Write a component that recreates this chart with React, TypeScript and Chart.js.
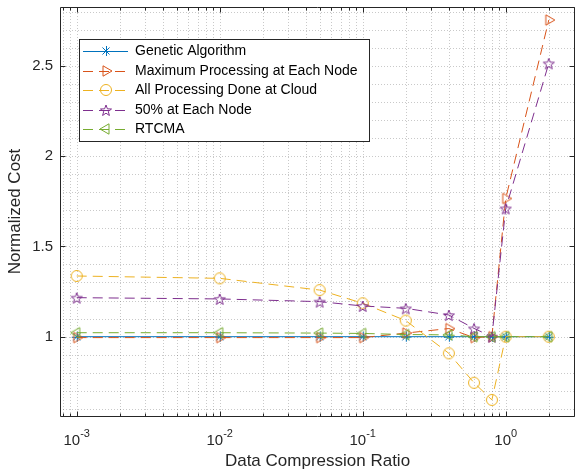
import React, { useEffect, useRef } from 'react';
import { Chart, registerables } from 'chart.js';

Chart.register(...registerables);

// ---- Data ----
const compressionRatios = [0.001, 0.01, 0.05, 0.1, 0.2, 0.4, 0.6, 0.8, 1, 2];
const seriesLabels = [
  'Genetic Algorithm',
  'Maximum Processing at Each Node',
  'All Processing Done at Cloud',
  '50% at Each Node',
  'RTCMA',
];
const geneticAlgorithm = [1, 1, 1, 1, 1, 1, 1, 1, 1, 1];
const maxProcessingEachNode = [0.995, 0.995, 0.995, 0.995, 1.02, 1.045, 0.995, 1.0, 1.765, 2.753];
const allProcessingCloud = [1.336, 1.323, 1.258, 1.185, 1.089, 0.908, 0.745, 0.65, 1.0, 1.0];
const fiftyPercentEachNode = [1.216, 1.209, 1.194, 1.17, 1.157, 1.12, 1.046, 1.0, 1.71, 2.513];
const rtcma = [1.022, 1.022, 1.02, 1.018, 1.012, 1.01, 1.0, 1.0, 1.0, 1.0];

const xMajorTicks = [0.001, 0.01, 0.1, 1];
const xTickExponents = ['-3', '-2', '-1', '0'];
const yMajorTicks = [1, 1.5, 2, 2.5];
const yTickLabels = ['1', '1.5', '2', '2.5'];

const FONT = "'Liberation Sans', Arial, Helvetica, sans-serif";
const AXIS_COLOR = '#262626';

const seriesValues = [geneticAlgorithm, maxProcessingEachNode, allProcessingCloud, fiftyPercentEachNode, rtcma];
const seriesColors = ['#0072BD', '#D95319', '#EDB120', '#7E2F8E', '#77AC30'];
const seriesMarkers = ['asterisk', 'triRight', 'circle', 'pentagram', 'triLeft'];
const seriesDash: number[][] = [[], [10, 6], [10, 6], [10, 6], [10, 6]];

function makeMarker(kind: string, color: string): HTMLCanvasElement {
  const s = 16;
  const c = document.createElement('canvas');
  c.width = s;
  c.height = s;
  const g = c.getContext('2d')!;
  g.strokeStyle = color;
  g.lineWidth = 1;
  const m = s / 2;
  g.beginPath();
  if (kind === 'asterisk') {
    const r = 5;
    const d = r * 0.7071;
    g.moveTo(m + 0.5, m - r); g.lineTo(m + 0.5, m + r);
    g.moveTo(m - r, m + 0.5); g.lineTo(m + r, m + 0.5);
    g.moveTo(m - d, m - d); g.lineTo(m + d, m + d);
    g.moveTo(m - d, m + d); g.lineTo(m + d, m - d);
  } else if (kind === 'circle') {
    g.arc(m, m, 5.5, 0, Math.PI * 2);
  } else if (kind === 'triRight' || kind === 'triLeft') {
    const r = 6;
    const sgn = kind === 'triRight' ? 1 : -1;
    g.moveTo(m + sgn * r, m);
    g.lineTo(m - sgn * r * 0.5, m - r * 0.866);
    g.lineTo(m - sgn * r * 0.5, m + r * 0.866);
    g.closePath();
  } else if (kind === 'pentagram') {
    const ro = 5.8;
    const ri = 2.4;
    for (let i = 0; i < 10; i++) {
      const r = i % 2 === 0 ? ro : ri;
      const a = -Math.PI / 2 + (i * Math.PI) / 5;
      const x = m + r * Math.cos(a);
      const y = m + 0.8 + r * Math.sin(a);
      if (i === 0) g.moveTo(x, y);
      else g.lineTo(x, y);
    }
    g.closePath();
  }
  g.stroke();
  return c;
}

export default function App() {
  const canvasRef = useRef<HTMLCanvasElement | null>(null);

  useEffect(() => {
    document.body.style.margin = '0';
    const canvas = canvasRef.current;
    if (!canvas) return;

    const markers = seriesColors.map((col, i) => makeMarker(seriesMarkers[i], col));

    const decorPlugin = {
      id: 'matlabDecor',
      beforeDatasetsDraw(chart: any) {
        const { ctx, chartArea: ca, scales } = chart;
        const xs = scales.x;
        const ys = scales.y;
        ctx.save();
        ctx.strokeStyle = 'rgba(38,38,38,0.25)';
        ctx.lineWidth = 1;
        ctx.setLineDash([1, 2]);
        for (let e = -4; e <= 0; e++) {
          for (let k = 1; k <= 9; k++) {
            const v = k * Math.pow(10, e);
            if (v < xs.min || v > xs.max) continue;
            const px = Math.round(xs.getPixelForValue(v)) + 0.5;
            ctx.beginPath();
            ctx.moveTo(px, ca.top);
            ctx.lineTo(px, ca.bottom);
            ctx.stroke();
          }
        }
        for (let k = 6; k <= 28; k++) {
          const v = k / 10;
          if (v < ys.min || v > ys.max) continue;
          const py = Math.round(ys.getPixelForValue(v)) + 0.5;
          ctx.beginPath();
          ctx.moveTo(ca.left, py);
          ctx.lineTo(ca.right, py);
          ctx.stroke();
        }
        ctx.restore();
      },
      afterDatasetsDraw(chart: any) {
        const { ctx, chartArea: ca, scales } = chart;
        const xs = scales.x;
        const ys = scales.y;
        ctx.save();
        ctx.setLineDash([]);
        ctx.strokeStyle = AXIS_COLOR;
        ctx.lineWidth = 1;
        const L = Math.round(ca.left) + 0.5;
        const R = Math.round(ca.right) - 0.5;
        const T = Math.round(ca.top) + 0.5;
        const B = Math.round(ca.bottom) + 0.5;
        ctx.beginPath();
        ctx.rect(L, T, R - L, B - T);
        ctx.stroke();
        for (let e = -4; e <= 0; e++) {
          for (let k = 1; k <= 9; k++) {
            const v = k * Math.pow(10, e);
            if (v < xs.min || v > xs.max) continue;
            const px = Math.round(xs.getPixelForValue(v)) + 0.5;
            const len = k === 1 ? 5 : 3;
            ctx.beginPath();
            ctx.moveTo(px, B);
            ctx.lineTo(px, B - len);
            ctx.moveTo(px, T);
            ctx.lineTo(px, T + len);
            ctx.stroke();
          }
        }
        yMajorTicks.forEach((v) => {
          const py = Math.round(ys.getPixelForValue(v)) + 0.5;
          ctx.beginPath();
          ctx.moveTo(L, py);
          ctx.lineTo(L + 5, py);
          ctx.moveTo(R, py);
          ctx.lineTo(R - 5, py);
          ctx.stroke();
        });
        ctx.fillStyle = AXIS_COLOR;
        ctx.textBaseline = 'alphabetic';
        ctx.textAlign = 'left';
        xMajorTicks.forEach((v, i) => {
          const px = xs.getPixelForValue(v);
          ctx.font = `15px ${FONT}`;
          const wBase = ctx.measureText('10').width;
          ctx.font = `11px ${FONT}`;
          const wExp = ctx.measureText(xTickExponents[i]).width;
          const start = px - (wBase + wExp) / 2;
          ctx.font = `15px ${FONT}`;
          ctx.fillText('10', start, B + 28.5);
          ctx.font = `11px ${FONT}`;
          ctx.fillText(xTickExponents[i], start + wBase, B + 20.5);
        });
        const lx = 79.5, ly = 39.5, lw = 290, lh = 102;
        ctx.fillStyle = '#ffffff';
        ctx.fillRect(lx, ly, lw, lh);
        ctx.strokeStyle = AXIS_COLOR;
        ctx.strokeRect(lx, ly, lw, lh);
        ctx.font = `14px ${FONT}`;
        ctx.textBaseline = 'middle';
        seriesLabels.forEach((label, i) => {
          const y = ly + 11.5 + i * 19.5;
          const yl = Math.round(y) + 0.5;
          ctx.strokeStyle = seriesColors[i];
          ctx.setLineDash(seriesDash[i]);
          ctx.beginPath();
          ctx.moveTo(83, yl);
          ctx.lineTo(128, yl);
          ctx.stroke();
          ctx.setLineDash([]);
          const mk = markers[i];
          ctx.drawImage(mk, 106 - mk.width / 2, Math.round(y) - mk.height / 2);
          ctx.fillStyle = '#000000';
          ctx.fillText(label, 135, y + 0.5);
        });
        ctx.restore();
      },
    };

    const datasets = seriesLabels.map((label, i) => ({
      label,
      data: compressionRatios.map((x, j) => ({ x, y: seriesValues[i][j] })),
      borderColor: seriesColors[i],
      backgroundColor: 'transparent',
      borderWidth: 1,
      borderDash: seriesDash[i],
      pointStyle: markers[i] as any,
      pointRadius: 6,
      pointHoverRadius: 6,
      tension: 0,
      fill: false,
      order: seriesLabels.length - i,
    }));

    const chart = new Chart(canvas, {
      type: 'line',
      data: { datasets },
      plugins: [decorPlugin],
      options: {
        animation: false,
        responsive: false,
        maintainAspectRatio: false,
        events: [],
        layout: { autoPadding: false, padding: { top: 7, right: 0, left: 0, bottom: 0 } },
        plugins: { legend: { display: false }, tooltip: { enabled: false } },
        scales: {
          x: {
            type: 'logarithmic',
            min: 7.64e-4,
            max: 3.05,
            grid: { display: false, drawTicks: false },
            border: { display: false },
            ticks: { display: false },
            title: {
              display: true,
              text: 'Data Compression Ratio',
              color: AXIS_COLOR,
              font: { family: FONT, size: 17 },
              padding: { top: 0, bottom: 2 },
            },
            afterFit: (s: any) => {
              s.height = 58;
              s.paddingLeft = 0;
              s.paddingRight = 0;
            },
          },
          y: {
            type: 'linear',
            min: 0.561,
            max: 2.825,
            grid: { display: false, drawTicks: false },
            border: { display: false },
            afterBuildTicks: (s: any) => { s.ticks = yMajorTicks.map((v) => ({ value: v })); },
            ticks: {
              padding: 7,
              color: AXIS_COLOR,
              font: { family: FONT, size: 15 },
              callback: (_v: any, idx: number) => yTickLabels[idx],
            },
            title: {
              display: true,
              text: 'Normalized Cost',
              color: AXIS_COLOR,
              font: { family: FONT, size: 17 },
              padding: { top: 5.5, bottom: 0 },
            },
            afterFit: (s: any) => {
              s.width = 60;
              s.paddingTop = 0;
              s.paddingBottom = 0;
            },
          },
        },
      } as any,
    });

    return () => chart.destroy();
  }, []);

  return (
    <div style={{ width: 575, height: 474 }}>
      <canvas ref={canvasRef} width={575} height={474} style={{ display: 'block' }} />
    </div>
  );
}
